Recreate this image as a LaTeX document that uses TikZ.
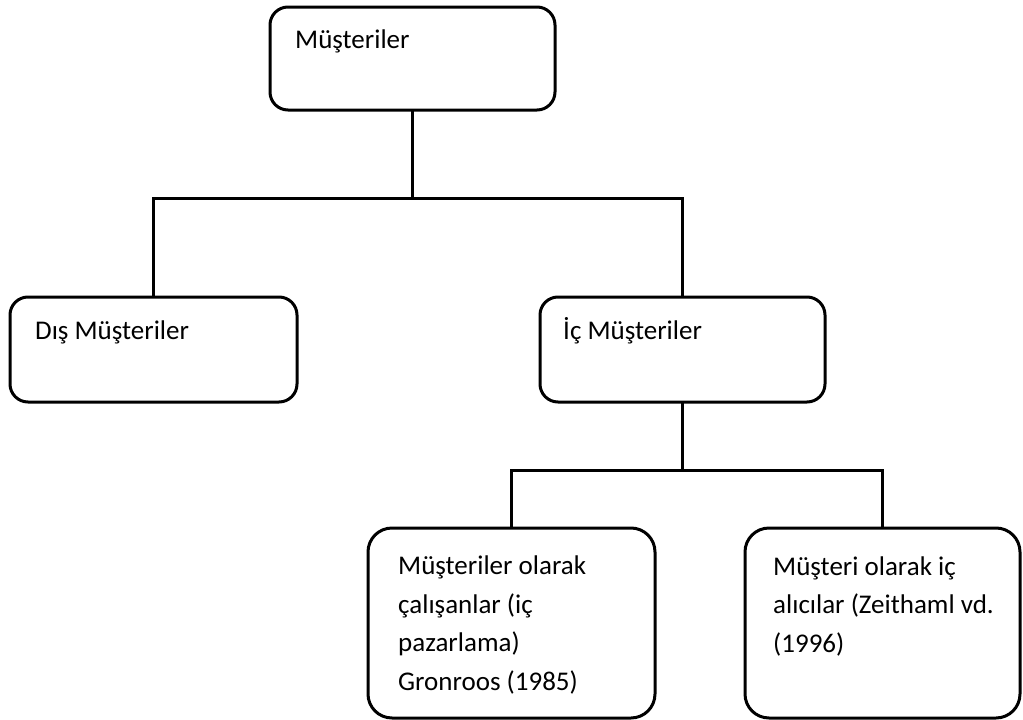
\documentclass[tikz,border=0pt]{standalone}
\usepackage{fontspec}
\setmainfont{Carlito}
\usetikzlibrary{positioning}

\begin{document}
\begin{tikzpicture}[x=1pt,y=-1pt,
 kutu/.style={draw,line width=3pt,rounded corners=18pt,anchor=north west,inner sep=0pt,outer sep=0pt},
 altkutu/.style={kutu,rounded corners=24pt},
 yazi/.style={font=\fontsize{27}{38.5}\selectfont,anchor=base west,align=left,inner sep=0pt},
 baglanti/.style={line width=3pt}]
\useasboundingbox (0,0) rectangle (1023,720);
% kutular
\node[kutu,minimum width=285pt,minimum height=103pt] (must) at (270,7) {};
\node[kutu,minimum width=287pt,minimum height=105pt] (dis) at (10,297) {};
\node[kutu,minimum width=285pt,minimum height=105pt] (ic) at (540,297) {};
\node[altkutu,minimum width=287pt,minimum height=190pt] (calisan) at (368,528) {};
\node[altkutu,minimum width=275pt,minimum height=190pt] (alici) at (745,528) {};
% yazilar
\node[yazi] (mustyazi) at (295,48) {Müşteriler};
\node[yazi] (disyazi) at (35,339) {Dış Müşteriler};
\node[yazi] (icyazi) at (563,339) {İç Müşteriler};
\node[yazi] (calisanyazi) at (398,690) {Müşteriler olarak\\çalışanlar (iç\\pazarlama)\\Gronroos (1985)};
\node[yazi] (aliciyazi) at (773,652) {Müşteri olarak iç\\alıcılar (Zeithaml vd.\\(1996)};
% baglantilar
\coordinate (j1) at (must.south |- 0,198);
\coordinate (j2) at (ic.south |- 0,470);
\draw[baglanti] (must.south) -- (j1);
\draw[baglanti] (dis.north) |- (j1) -| (ic.north);
\draw[baglanti] (ic.south) -- (j2);
\draw[baglanti] (calisan.north) |- (j2) -| (alici.north);
\end{tikzpicture}
\end{document}
